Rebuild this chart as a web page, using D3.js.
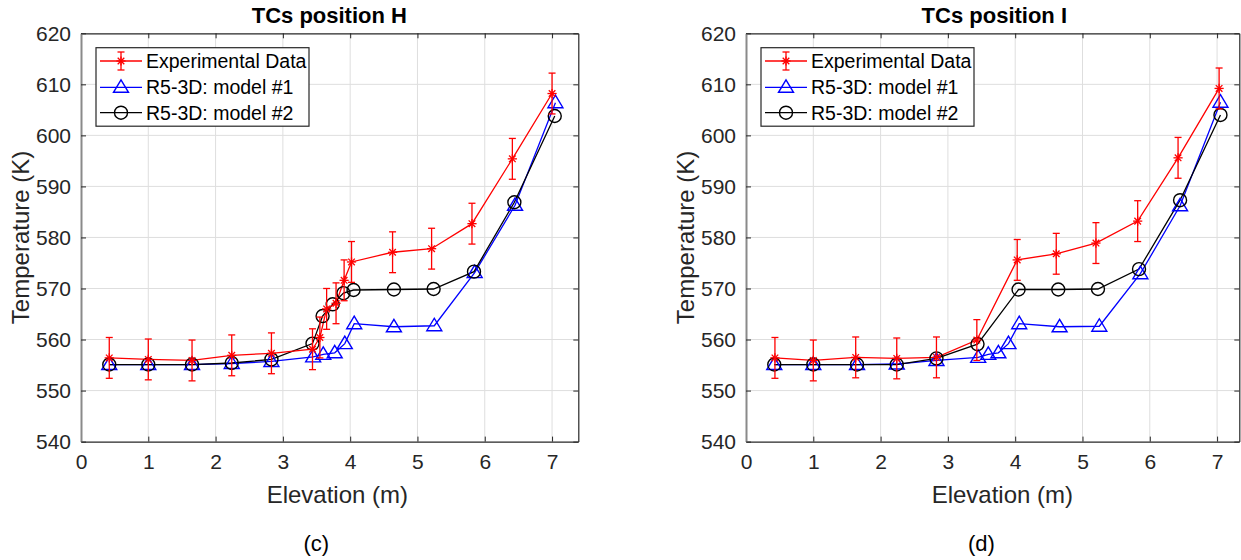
<!DOCTYPE html>
<html>
<head>
<meta charset="utf-8">
<script src="https://cdn.jsdelivr.net/npm/d3@7"></script>
<style>
  html, body { margin: 0; padding: 0; background: #fff; }
  svg { display: block; font-family: "Liberation Sans", Arial, sans-serif; }
</style>
</head>
<body>
<svg id="fig" width="1241" height="560"></svg>
<script>
// ---- Data: temperature profiles along elevation ----
const xTicks = [0, 1, 2, 3, 4, 5, 6, 7];
const yTicks = [540, 550, 560, 570, 580, 590, 600, 610, 620];
const legendLabels = ["Experimental Data", "R5-3D: model #1", "R5-3D: model #2"];

// Position H
const elevExpH = [0.42, 1.0, 1.65, 2.24, 2.83, 3.44, 3.55, 3.65, 3.79, 3.91, 4.02, 4.63, 5.21, 5.81, 6.41, 7.0];
const tempExpH = [556.4, 556.1, 555.9, 556.9, 557.3, 558.1, 560.4, 566.0, 567.1, 571.6, 575.2, 577.1, 577.8, 582.7, 595.4, 608.2];
const errExpH  = [4, 4, 4, 4, 4, 4, 4, 4, 4, 4, 4, 4, 4, 4, 4, 4];
const elevM1H  = [0.42, 1.0, 1.65, 2.24, 2.83, 3.45, 3.6, 3.77, 3.92, 4.06, 4.65, 5.25, 5.85, 6.45, 7.05];
const tempM1H  = [555.1, 555.1, 555.1, 555.3, 555.7, 556.6, 557.1, 557.4, 559.2, 563.1, 562.5, 562.7, 573.1, 586.3, 606.4];
const elevM2H  = [0.42, 1.0, 1.65, 2.24, 2.83, 3.44, 3.59, 3.74, 3.9, 4.05, 4.65, 5.24, 5.84, 6.44, 7.04];
const tempM2H  = [555.1, 555.1, 555.1, 555.4, 556.1, 559.2, 564.6, 566.9, 569.1, 569.7, 569.8, 569.9, 573.3, 586.9, 603.8];

// Position I
const elevExpI = [0.43, 1.0, 1.63, 2.24, 2.83, 3.43, 4.03, 4.61, 5.2, 5.82, 6.42, 7.03];
const tempExpI = [556.4, 555.9, 556.5, 556.3, 556.5, 559.9, 575.6, 576.8, 578.9, 583.2, 595.6, 609.2];
const errExpI  = [4, 4, 4, 4, 4, 4, 4, 4, 4, 4, 4, 4];
const elevM1I  = [0.42, 1.0, 1.65, 2.24, 2.83, 3.45, 3.6, 3.75, 3.9, 4.06, 4.66, 5.25, 5.86, 6.45, 7.05];
const tempM1I  = [555.1, 555.1, 555.1, 555.2, 555.9, 556.5, 557.1, 557.4, 559.2, 563.1, 562.5, 562.6, 572.9, 586.2, 606.5];
const elevM2I  = [0.42, 1.0, 1.65, 2.24, 2.83, 3.44, 4.05, 4.64, 5.23, 5.84, 6.45, 7.05];
const tempM2I  = [555.1, 555.1, 555.1, 555.1, 556.3, 559.1, 569.8, 569.8, 569.9, 573.8, 587.3, 604.0];

const zip = (xs, ys, es) => xs.map((x, i) => ({ x, y: ys[i], e: es ? es[i] : 0 }));

const panels = [
  { title: "TCs position H", tag: "(c)", left: 81, right: 578.3, xMax: 7.39,
    exp: zip(elevExpH, tempExpH, errExpH), m1: zip(elevM1H, tempM1H), m2: zip(elevM2H, tempM2H) },
  { title: "TCs position I", tag: "(d)", left: 746, right: 1239.3, xMax: 7.33,
    exp: zip(elevExpI, tempExpI, errExpI), m1: zip(elevM1I, tempM1I), m2: zip(elevM2I, tempM2I) }
];

const TOP = 33.3, BOTTOM = 441.6;
const AX = "#262626", GRID = "#dedede";
const RED = "#ff0000", BLUE = "#0000ff", BLACK = "#000000";
const LW = 1.3;

const svg = d3.select("#fig");

function asterisk(g, cx, cy, color) {
  const r = 4.6, d = 3.3;
  const segs = [[-r, 0, r, 0], [0, -r, 0, r], [-d, -d, d, d], [-d, d, d, -d]];
  segs.forEach(s => g.append("line")
    .attr("x1", cx + s[0]).attr("y1", cy + s[1]).attr("x2", cx + s[2]).attr("y2", cy + s[3])
    .attr("stroke", color).attr("stroke-width", LW));
}
function triangle(g, cx, cy, color) {
  g.append("path")
    .attr("d", `M${cx},${cy - 7.5}L${cx + 7.5},${cy + 5}L${cx - 7.5},${cy + 5}Z`)
    .attr("fill", "none").attr("stroke", color).attr("stroke-width", 1.4);
}
function circle(g, cx, cy, color) {
  g.append("circle").attr("cx", cx).attr("cy", cy).attr("r", 6.5)
    .attr("fill", "none").attr("stroke", color).attr("stroke-width", 1.4);
}

panels.forEach(p => {
  const x = d3.scaleLinear().domain([0, p.xMax]).range([p.left, p.right]);
  const y = d3.scaleLinear().domain([540, 620]).range([BOTTOM, TOP]);
  const g = svg.append("g");

  // grid
  g.append("g").selectAll("line").data(xTicks.filter(t => t > 0)).join("line")
    .attr("x1", d => x(d)).attr("x2", d => x(d)).attr("y1", TOP).attr("y2", BOTTOM)
    .attr("stroke", GRID).attr("stroke-width", 1);
  g.append("g").selectAll("line").data(yTicks.filter(t => t > 540 && t < 620)).join("line")
    .attr("x1", p.left).attr("x2", p.right).attr("y1", d => y(d)).attr("y2", d => y(d))
    .attr("stroke", GRID).attr("stroke-width", 1);

  // axes (ticks inward, box on)
  const tickFont = 21;
  const xb = g.append("g").attr("transform", `translate(0,${BOTTOM})`)
    .call(d3.axisBottom(x).tickValues(xTicks).tickSizeInner(-5).tickSizeOuter(0).tickPadding(12).tickFormat(d3.format("d")));
  const xt = g.append("g").attr("transform", `translate(0,${TOP})`)
    .call(d3.axisTop(x).tickValues(xTicks).tickSizeInner(-5).tickSizeOuter(0).tickFormat(""));
  const yl = g.append("g").attr("transform", `translate(${p.left},0)`)
    .call(d3.axisLeft(y).tickValues(yTicks).tickSizeInner(-5).tickSizeOuter(0).tickPadding(10).tickFormat(d3.format("d")));
  const yr = g.append("g").attr("transform", `translate(${p.right},0)`)
    .call(d3.axisRight(y).tickValues(yTicks).tickSizeInner(-5).tickSizeOuter(0).tickFormat(""));
  [xb, xt, yl, yr].forEach(a => {
    a.select(".domain").attr("stroke", AX).attr("stroke-width", 1.2);
    a.selectAll(".tick line").attr("stroke", AX);
    a.selectAll("text").attr("fill", AX).attr("font-size", tickFont).attr("font-family", "Liberation Sans, Arial, sans-serif");
  });
  yl.select(".domain").attr("stroke", "#8a8a8a").attr("stroke-width", 2);

  const lineGen = d3.line().x(d => x(d.x)).y(d => y(d.y));

  // model #1
  g.append("path").datum(p.m1).attr("d", lineGen).attr("fill", "none").attr("stroke", BLUE).attr("stroke-width", LW);
  // model #2
  g.append("path").datum(p.m2).attr("d", lineGen).attr("fill", "none").attr("stroke", BLACK).attr("stroke-width", LW);
  // experimental
  g.append("path").datum(p.exp).attr("d", lineGen).attr("fill", "none").attr("stroke", RED).attr("stroke-width", LW);

  // markers
  p.m1.forEach(d => triangle(g, x(d.x), y(d.y), BLUE));
  p.m2.forEach(d => circle(g, x(d.x), y(d.y), BLACK));
  p.exp.forEach(d => {
    const cx = x(d.x), y0 = y(d.y - d.e), y1 = y(d.y + d.e), cap = 3.5;
    g.append("line").attr("x1", cx).attr("x2", cx).attr("y1", y0).attr("y2", y1).attr("stroke", RED).attr("stroke-width", LW);
    g.append("line").attr("x1", cx - cap).attr("x2", cx + cap).attr("y1", y0).attr("y2", y0).attr("stroke", RED).attr("stroke-width", LW);
    g.append("line").attr("x1", cx - cap).attr("x2", cx + cap).attr("y1", y1).attr("y2", y1).attr("stroke", RED).attr("stroke-width", LW);
    asterisk(g, cx, y(d.y), RED);
  });

  // title and labels
  const mid = (p.left + p.left + 7.38 * (p.right - p.left) / p.xMax) / 2;
  g.append("text").attr("x", mid).attr("y", 23).attr("text-anchor", "middle")
    .attr("font-weight", "bold").attr("font-size", 22).attr("fill", "#000").text(p.title);
  g.append("text").attr("x", mid + 8).attr("y", 503).attr("text-anchor", "middle")
    .attr("font-size", 24).attr("fill", AX).text("Elevation (m)");
  g.append("text").attr("transform", `translate(${p.left - 52},${(TOP + BOTTOM) / 2}) rotate(-90)`)
    .attr("text-anchor", "middle").attr("font-size", 24).attr("fill", AX).text("Temperature (K)");
  g.append("text").attr("x", mid - 13).attr("y", 551).attr("text-anchor", "middle")
    .attr("font-size", 22).attr("fill", "#000").text(p.tag);

  // legend
  const lx = p.left + 15, ly = 47.7, lw = 213, lh = 78.5;
  const lg = g.append("g");
  lg.append("rect").attr("x", lx).attr("y", ly).attr("width", lw).attr("height", lh)
    .attr("fill", "#fff").attr("stroke", AX).attr("stroke-width", 1.2);
  const rows = [61, 87.3, 112.7];
  const colors = [RED, BLUE, BLACK];
  rows.forEach((ry, i) => {
    lg.append("line").attr("x1", lx + 4).attr("x2", lx + 46).attr("y1", ry).attr("y2", ry)
      .attr("stroke", colors[i]).attr("stroke-width", LW);
    const mx = lx + 25;
    if (i === 0) {
      lg.append("line").attr("x1", mx).attr("x2", mx).attr("y1", ry - 9).attr("y2", ry + 9).attr("stroke", RED).attr("stroke-width", LW);
      lg.append("line").attr("x1", mx - 3.5).attr("x2", mx + 3.5).attr("y1", ry - 9).attr("y2", ry - 9).attr("stroke", RED).attr("stroke-width", LW);
      lg.append("line").attr("x1", mx - 3.5).attr("x2", mx + 3.5).attr("y1", ry + 9).attr("y2", ry + 9).attr("stroke", RED).attr("stroke-width", LW);
      asterisk(lg, mx, ry, RED);
    } else if (i === 1) {
      triangle(lg, mx, ry, BLUE);
    } else {
      circle(lg, mx, ry, BLACK);
    }
    lg.append("text").attr("x", lx + 50).attr("y", ry + 7).attr("font-size", 19.5)
      .attr("fill", "#000").text(legendLabels[i]);
  });
});
</script>
</body>
</html>
